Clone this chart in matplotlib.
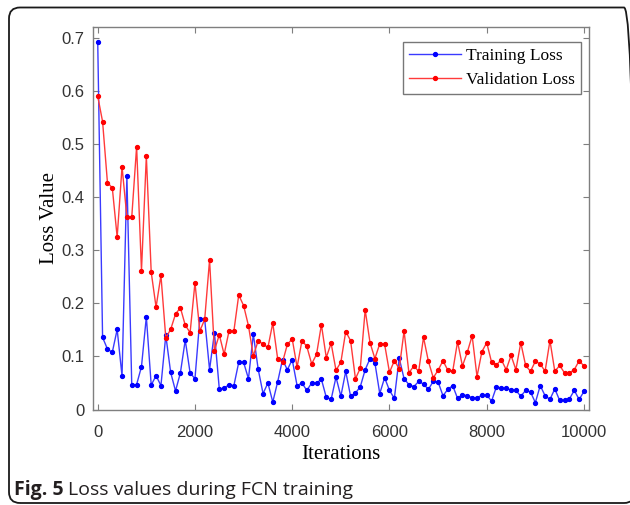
import numpy as np
import matplotlib
matplotlib.use("Agg")
import matplotlib.pyplot as plt
from matplotlib.patches import FancyBboxPatch

iterations = list(range(0, 10001, 100))

train_loss = [
    0.694, 0.136, 0.114, 0.108, 0.151, 0.063, 0.440, 0.046, 0.047, 0.081,
    0.175, 0.046, 0.064, 0.045, 0.140, 0.070, 0.035, 0.069, 0.131, 0.069,
    0.058, 0.171, 0.170, 0.075, 0.145, 0.039, 0.040, 0.047, 0.045, 0.089,
    0.089, 0.058, 0.142, 0.076, 0.030, 0.050,
    0.014, 0.052, 0.094, 0.075, 0.094, 0.045, 0.050, 0.036, 0.050, 0.050,
    0.057, 0.023, 0.019, 0.061, 0.025, 0.072, 0.025, 0.031, 0.043, 0.075,
    0.096, 0.088, 0.030, 0.060, 0.036, 0.021, 0.097, 0.058, 0.047, 0.043,
    0.053, 0.048, 0.038, 0.053, 0.052, 0.026, 0.038,
    0.045, 0.021, 0.028, 0.026, 0.022, 0.022, 0.027, 0.027, 0.016, 0.043,
    0.040, 0.040, 0.037, 0.036, 0.025, 0.036, 0.033, 0.013, 0.045, 0.026,
    0.019, 0.039, 0.017, 0.017, 0.020, 0.036, 0.019, 0.034,
]

val_loss = [
    0.591, 0.543, 0.428, 0.418, 0.325, 0.458, 0.363, 0.363, 0.496, 0.262,
    0.478, 0.259, 0.193, 0.253, 0.135, 0.151, 0.180, 0.192, 0.159, 0.145,
    0.239, 0.148, 0.170, 0.282, 0.111, 0.141, 0.104, 0.148, 0.148, 0.216,
    0.196, 0.158, 0.101, 0.130, 0.123, 0.117,
    0.163, 0.096, 0.089, 0.123, 0.133, 0.080, 0.130, 0.119, 0.086, 0.104,
    0.160, 0.098, 0.125, 0.074, 0.089, 0.147, 0.130, 0.058, 0.078, 0.188,
    0.126, 0.096, 0.124, 0.123, 0.070, 0.092, 0.077, 0.148, 0.069, 0.082,
    0.072, 0.136, 0.091, 0.060, 0.074, 0.092, 0.074,
    0.072, 0.128, 0.082, 0.108, 0.139, 0.062, 0.109, 0.126, 0.089, 0.084,
    0.094, 0.075, 0.102, 0.075, 0.126, 0.083, 0.072, 0.091, 0.086, 0.072,
    0.130, 0.072, 0.083, 0.069, 0.069, 0.075, 0.092, 0.082,
]

x_ticks = [0, 2000, 4000, 6000, 8000, 10000]
y_ticks = [0, 0.1, 0.2, 0.3, 0.4, 0.5, 0.6, 0.7]

fig = plt.figure(figsize=(6.3, 5.05), dpi=100)
ax = fig.add_axes([93 / 630, 95.5 / 505, 496 / 630, 382.8 / 505])

ax.plot(iterations, train_loss, color="#3a3aff", lw=1.0, marker="o", ms=2.8,
        mfc="#0000ff", mec="#0000ff", label="Training Loss")
ax.plot(iterations, val_loss, color="#ff3a3a", lw=1.0, marker="o", ms=2.8,
        mfc="#ff0000", mec="#ff0000", label="Validation Loss")

ax.set_xlim(-97, 10103)
ax.set_ylim(0, 0.722)
ax.set_xticks(x_ticks)
ax.set_yticks(y_ticks)
ax.set_yticklabels([f"{v:g}" for v in y_ticks])

for s in ax.spines.values():
    s.set_color("#7f7f7f")
    s.set_linewidth(1.0)
ax.tick_params(direction="in", top=True, right=True, length=4, width=0.8,
               color="#7f7f7f", labelcolor="#333333", labelsize=12)
ax.tick_params(axis="x", pad=11)
ax.tick_params(axis="y", pad=6)
for lab in ax.get_xticklabels() + ax.get_yticklabels():
    lab.set_family("Liberation Sans")

ax.set_xlabel("Iterations", family="Liberation Serif", fontsize=15, labelpad=4)
ax.set_ylabel("Loss Value", family="Liberation Serif", fontsize=15, labelpad=2)

leg = ax.legend(loc="upper right", bbox_to_anchor=(581 / 630, 1 - 42 / 505),
                bbox_transform=fig.transFigure, prop={"family": "Liberation Serif", "size": 12.5},
                frameon=True, fancybox=False, handlelength=3.0, handletextpad=0.3,
                borderpad=0.35, labelspacing=0.45, borderaxespad=0, markerscale=1.0)
leg.get_frame().set_edgecolor("#555555")
leg.get_frame().set_linewidth(1.0)

# rounded frame around figure + caption, cut off at the right edge
border = FancyBboxPatch((0.09, 0.02), 6.26, 4.955,
                        boxstyle="round,pad=0,rounding_size=0.11",
                        transform=fig.dpi_scale_trans, fill=False,
                        edgecolor="#1a1a1a", linewidth=1.3)
fig.patches.append(border)

t1 = fig.text(14 / 630, 10 / 505, "Fig. 5", family="Open Sans", weight="bold",
              fontsize=14, va="baseline", ha="left", color="#231f20")
fig.canvas.draw()
bb = t1.get_window_extent()
fig.text((bb.x1 + 4) / 630, 10 / 505, "Loss values during FCN training",
         family="Open Sans", fontsize=14, va="baseline", ha="left", color="#231f20")

fig.savefig("out.png", dpi=100)
